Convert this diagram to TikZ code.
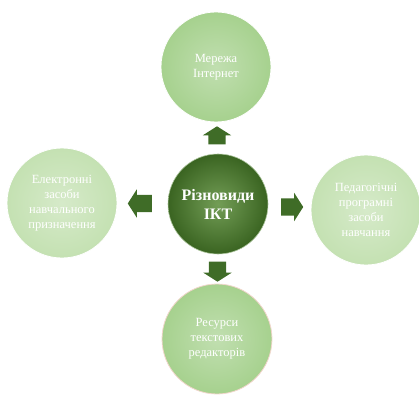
\documentclass[tikz,border=0pt]{standalone}
\usepackage{fontspec}
\setmainfont{Liberation Serif}
\usetikzlibrary{shapes.arrows, positioning, calc}
\definecolor{ictdark}{HTML}{5A8C38}
\definecolor{ictdeep}{HTML}{3A6421}
\definecolor{ictmid}{HTML}{A6D18E}
\definecolor{ictpale}{HTML}{C4E1B2}
\definecolor{ictarrow}{HTML}{3F6C27}
\definecolor{ictrim}{HTML}{F2D6CC}

\begin{document}
\begin{tikzpicture}[x=1pt, y=-1pt,
    hub/.style={circle, minimum size=100pt, inner sep=0pt, shading=radial, inner color=ictdark!85!white, outer color=ictdeep, draw=ictdark!50!white, line width=0.6pt, align=center, text=white, font=\fontsize{16}{19}\selectfont\bfseries},
    leaf/.style={circle, minimum size=110pt, inner sep=0pt, shading=radial, inner color=#1!70!white, outer color=#1, draw=white, line width=0.8pt, align=center, text=white, font=\fontsize{12.5}{15}\selectfont},
    pointer/.style={single arrow, draw=none, fill=ictarrow, minimum width=28pt, minimum height=#1, single arrow head extend=5.5pt, single arrow tip angle=115, inner xsep=0pt, inner ysep=8.5pt}
  ]
  \useasboundingbox (0,0) rectangle (419,403);
  \node[hub] (ikt) at (218,204) {Різновиди\\ІКТ};
  \node[leaf=ictmid] (inet) at (216,67) {Мережа\\Інтернет};
  \node[leaf=ictpale] (eznp) at (62,203) {Електронні\\засоби\\навчального\\призначення};
  \node[leaf=ictpale] (ppzn) at (366,210) {Педагогічні\\програмні\\засоби\\навчання};
  \node[leaf=ictmid, draw=ictrim] (rtr) at (217,339) {Ресурси\\текстових\\редакторів};
  \node[pointer=18pt, rotate=90] (toinet) at ($(ikt.north)!0.5!(inet.south)$) {};
  \node[pointer=20pt, rotate=-90] (tortr) at ($(ikt.south)!0.5!(rtr.north)$) {};
  \node[pointer=24pt, rotate=180] (toeznp) at ($(ikt.west)!0.5!(eznp.east)$) {};
  \node[pointer=22pt] (toppzn) at ($(ikt.east)!0.5!(ppzn.west)$) {};
\end{tikzpicture}
\end{document}
